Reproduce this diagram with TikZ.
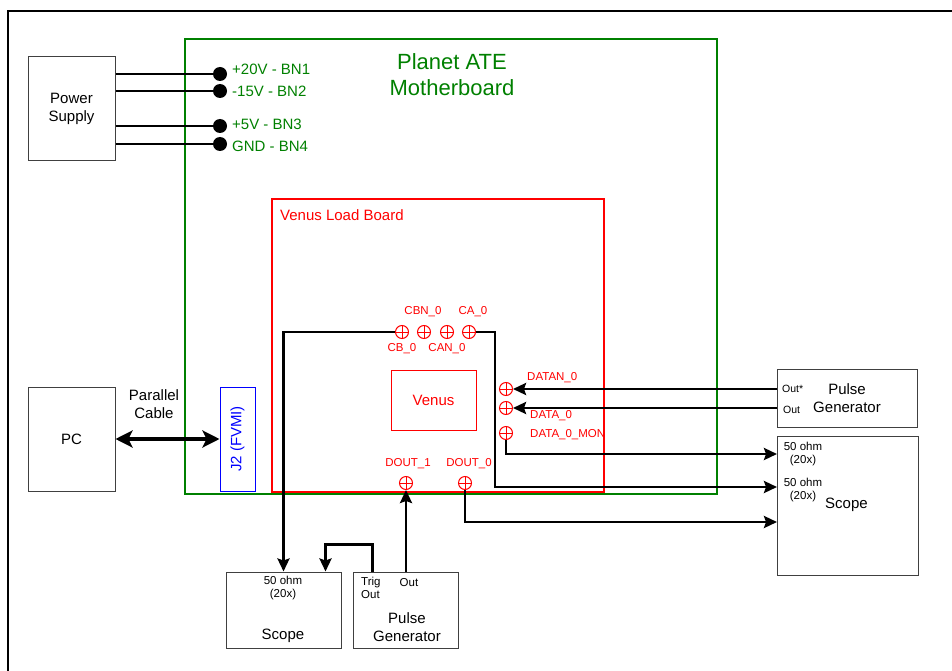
\documentclass[tikz,border=0pt]{standalone}
\usepackage{fontspec}
\setmainfont{Liberation Sans}
\usetikzlibrary{arrows.meta}
\definecolor{mbgreen}{RGB}{0,128,0}
\definecolor{lbred}{RGB}{255,0,0}
\definecolor{jblue}{RGB}{0,0,255}
\begin{document}
\begin{tikzpicture}[x=1pt,y=-1pt,
  box/.style={draw=black!75,line width=1pt,inner sep=0pt,align=center},
  wire/.style={line width=2.7pt},
  arr/.style={wire,-{Stealth[length=13pt,width=12pt,inset=2pt]}},
  dbl/.style={line width=4pt,{Stealth[length=17pt,width=17pt,inset=4pt]}-{Stealth[length=17pt,width=17pt,inset=4pt]}},
  conn/.style={circle,draw=lbred,line width=1pt,minimum size=13pt,inner sep=0pt,
    path picture={\draw[lbred,line width=1pt] (path picture bounding box.north)--(path picture bounding box.south) (path picture bounding box.west)--(path picture bounding box.east);}},
  bdot/.style={circle,fill=black,minimum size=14pt,inner sep=0pt},
  fbig/.style={font=\fontsize{22}{26}\selectfont},
  fmid/.style={font=\fontsize{15}{18}\selectfont},
  fsm/.style={font=\fontsize{11.5}{13.5}\selectfont},
  ftiny/.style={font=\fontsize{10.5}{13}\selectfont},
  glabel/.style={fmid,text=mbgreen,anchor=west,inner sep=0pt},
  rlabel/.style={fsm,text=lbred,inner sep=0pt},
]
\useasboundingbox (0,0) rectangle (952,671);
% outer frame
\draw[line width=2.7pt] (8,675) -- (8,11) -- (955,11);

% motherboard
\node[draw=mbgreen,line width=2pt,minimum width=532pt,minimum height=455pt,inner sep=0pt] (mb) at (451,266.5) {};
\node[fbig,text=mbgreen,align=center] (mbt) at (452,75) {Planet ATE\\Motherboard};

% load board
\node[draw=lbred,line width=2pt,minimum width=332pt,minimum height=293pt,inner sep=0pt] (lb) at (438,345.5) {};
\node[fmid,text=lbred,anchor=west,inner sep=0pt] (lbt) at (280,215) {Venus Load Board};

% venus
\node[draw=lbred,line width=1pt,minimum width=85pt,minimum height=60pt,inner sep=0pt,fmid,text=lbred] (venus) at (433.5,400) {Venus};

% power supply
\node[box,fmid,minimum width=87pt,minimum height=104pt] (ps) at (71.5,109) {Power\\Supply};
\node[bdot] (d1) at (220,74) {};
\node[bdot] (d2) at (220,91) {};
\node[bdot] (d3) at (220,126) {};
\node[bdot] (d4) at (220,144) {};
\draw[wire] (ps.east |- d1) -- (d1);
\draw[wire] (ps.east |- d2) -- (d2);
\draw[wire] (ps.east |- d3) -- (d3);
\draw[wire] (ps.east |- d4) -- (d4);
\node[glabel] (l1) at (232,69) {+20V - BN1};
\node[glabel] (l2) at (232,91) {-15V - BN2};
\node[glabel] (l3) at (232,124) {+5V - BN3};
\node[glabel] (l4) at (232,146) {GND - BN4};

% PC and J2
\node[box,fmid,minimum width=87pt,minimum height=104pt] (pc) at (71.5,439) {PC};
\node[draw=jblue,line width=1pt,minimum width=35pt,minimum height=104pt,inner sep=0pt] (j2) at (237.5,439) {};
\node[fmid,text=jblue,rotate=90,inner sep=0pt] (j2t) at (j2.center) {J2 (FVMI)};
\draw[dbl] (pc.east) -- (j2.west);
\node[fmid,align=center,inner sep=0pt] (pcable) at (154,404) {Parallel\\Cable};

% connectors
\node[conn] (cb) at (402,332) {};
\node[conn] (cbn) at (424,332) {};
\node[conn] (can) at (447,332) {};
\node[conn] (ca) at (469,332) {};
\node[rlabel] at (423,312) {CBN\_0};
\node[rlabel] at (473,312) {CA\_0};
\node[rlabel] at (402,349) {CB\_0};
\node[rlabel] at (447,349) {CAN\_0};

\node[conn] (datan) at (506,389) {};
\node[conn] (data) at (506,408) {};
\node[conn] (datamon) at (506,433) {};
\node[rlabel,anchor=west] at (527,378) {DATAN\_0};
\node[rlabel,anchor=west] at (530,416) {DATA\_0};
\node[rlabel,anchor=west] at (530,435) {DATA\_0\_MON};

\node[conn] (dout1) at (406,483) {};
\node[conn] (dout0) at (465,483) {};
\node[rlabel] at (408,464) {DOUT\_1};
\node[rlabel] at (469,464) {DOUT\_0};

% right pulse generator
\node[box,fmid,minimum width=140pt,minimum height=58pt] (rpg) at (847,398) {Pulse\\Generator};
\node[ftiny,anchor=west,inner sep=0pt] at (782,389) {Out*};
\node[ftiny,anchor=west,inner sep=0pt] at (783,410) {Out};
\coordinate (po1) at (777,389);
\coordinate (po2) at (777,408);
\draw[arr] (po1) -- (datan.east);
\draw[arr] (po2) -- (data.east);

% right scope
\node[box,minimum width=141pt,minimum height=139pt] (rscope) at (847.5,505.5) {};
\node[fsm,align=center,inner sep=0pt] at (803,454) {50 ohm\\(20x)};
\node[fsm,align=center,inner sep=0pt] at (803,490) {50 ohm\\(20x)};
\node[fmid,anchor=west,inner sep=0pt] at (825,505) {Scope};
\coordinate (in1) at (777,454);
\coordinate (in2) at (777,487);
\coordinate (in3) at (777,522);
\draw[arr] (datamon.south) |- (in1);
\draw[arr] (ca.east) -- (495,332) |- (in2);
\draw[arr] (dout0.south) |- (in3);

% bottom scope
\node[box,minimum width=115pt,minimum height=76pt] (bscope) at (283.5,610) {};
\node[fsm,align=center,inner sep=0pt] at (283,588) {50 ohm\\(20x)};
\node[fmid,inner sep=0pt] at (283,636) {Scope};

% bottom pulse generator
\node[box,minimum width=105pt,minimum height=76pt] (bpg) at (405.5,610) {};
\node[fsm,align=left,anchor=west,inner sep=0pt] at (361,588) {Trig\\Out};
\node[fsm,inner sep=0pt] at (409,583) {Out};
\node[fmid,align=center,inner sep=0pt] at (407,627) {Pulse\\Generator};

\draw[arr] (cb.west) -| (bscope.north);
\draw[arr] ([xshift=20pt]bpg.north west) -- ++(0,-27) -| ([xshift=-16pt]bscope.north east);
\draw[arr] (bpg.north -| dout1) -- (dout1.south);
\end{tikzpicture}
\end{document}
